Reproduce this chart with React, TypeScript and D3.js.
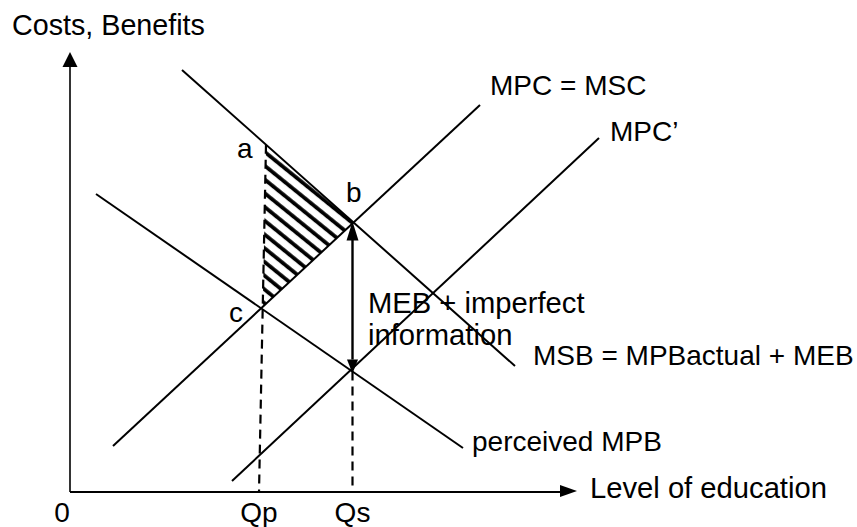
import React from "react";
import * as d3 from "d3";

// Curves as straight lines, in data units (quantity, cost/benefit)
const curveNames = ["MSB = MPBactual + MEB", "perceived MPB", "MPC = MSC", "MPC’"];
const curveX0 = [2.24, 0.52, 0.86, 3.24];
const curveY0 = [10.55, 7.45, 1.15, 0.275];
const curveX1 = [8.9, 7.86, 8.2, 10.58];
const curveY1 = [3.15, 1.1, 9.675, 8.85];
// label anchor (data units)
const curveLabelX = [9.26, 8.04, 8.4, 10.8];
const curveLabelY = [3.18, 1.03, 9.93, 8.78];

// Quantities on the horizontal axis
const qLabels = ["0", "Qp", "Qs"];
const qValues = [0, 3.78, 5.65];
const qpTopX = 3.92; // top of the Qp dashed line (at point a)

const pointLabels = ["a", "b", "c"];
const pointLabelX = [3.34, 5.52, 3.18];
const pointLabelY = [8.36, 7.25, 4.25];

const axisYLabel = "Costs, Benefits";
const axisXLabel = "Level of education";
const mebLines = ["MEB + imperfect", "information"];

const W = 857;
const H = 527;
const FONT = "'Liberation Sans', Arial, Helvetica, sans-serif";
const FS = 28;
const FS_BIG = 29.2;

export default function App() {
  const x = d3.scaleLinear().domain([0, 10]).range([70, 570]);
  const y = d3.scaleLinear().domain([0, 10]).range([492, 92]);

  const slope = (i: number) => (curveY1[i] - curveY0[i]) / (curveX1[i] - curveX0[i]);
  const at = (i: number, xv: number) => curveY0[i] + slope(i) * (xv - curveX0[i]);
  const intersect = (i: number, j: number) => {
    const xv = (curveY0[j] - slope(j) * curveX0[j] - (curveY0[i] - slope(i) * curveX0[i])) / (slope(i) - slope(j));
    return [xv, at(i, xv)];
  };

  const line = d3.line<[number, number]>().x((d) => x(d[0])).y((d) => y(d[1]));

  const qp = qValues[1];
  const qs = qValues[2];
  const aY = at(0, qpTopX);
  const qpLineX = (yv: number) => qp + (qpTopX - qp) * (yv / aY);
  let cY = at(2, qp);
  for (let k = 0; k < 5; k++) cY = at(2, qpLineX(cY));
  const cX = qpLineX(cY);
  const [bX, bY] = intersect(0, 2);
  const triangle: [number, number][] = [
    [qpTopX, aY],
    [bX, bY],
    [cX, cY],
  ];

  const topArrowY = at(0, qs);
  const lowArrowY = at(1, qs);
  const xq = x(qs);
  const yTop = y(topArrowY);
  const yLow = y(lowArrowY);

  const ox = x(0);
  const oy = y(0);
  const xTip = x(10.14);
  const yTip = y(11.0);

  return (
    <svg
      width={W}
      height={H}
      style={{ position: "absolute", left: 0, top: 0, background: "#fff" }}
      fontFamily={FONT}
    >
      <defs>
        <pattern
          id="hatch"
          patternUnits="userSpaceOnUse"
          width={10.7}
          height={10.7}
          patternTransform="rotate(39)"
        >
          <line x1={0} y1={5} x2={10.7} y2={5} stroke="#000" strokeWidth={3.8} />
        </pattern>
      </defs>
      <rect width={W} height={H} fill="#fff" />

      {/* hatched welfare loss triangle */}
      <path d={line(triangle) + "Z"} fill="url(#hatch)" stroke="none" />

      {/* axes */}
      <line x1={ox} y1={oy} x2={ox} y2={yTip + 14} stroke="#000" strokeWidth={1.6} />
      <path d={`M${ox},${yTip} L${ox - 7.5},${yTip + 15} L${ox + 7.5},${yTip + 15} Z`} fill="#000" />
      <line x1={ox} y1={oy} x2={xTip - 15} y2={oy} stroke="#000" strokeWidth={1.8} />
      <path d={`M${xTip},${oy - 1} L${xTip - 17},${oy - 7} L${xTip - 17},${oy + 5} Z`} fill="#000" />

      {/* dashed quantity lines */}
      <line
        x1={x(qpTopX)}
        y1={y(aY)}
        x2={x(qp)}
        y2={oy}
        stroke="#000"
        strokeWidth={2.2}
        strokeDasharray="9,6"
      />
      <line
        x1={xq}
        y1={yLow}
        x2={xq}
        y2={oy}
        stroke="#000"
        strokeWidth={2.2}
        strokeDasharray="9,6"
      />

      {/* curves */}
      {curveNames.map((n, i) => (
        <path
          key={n}
          d={line([
            [curveX0[i], curveY0[i]],
            [curveX1[i], curveY1[i]],
          ]) as string}
          stroke="#000"
          strokeWidth={2}
          fill="none"
        />
      ))}

      {/* double arrow MEB */}
      <line x1={xq} y1={yTop + 16} x2={xq} y2={yLow - 12} stroke="#000" strokeWidth={2.4} />
      <path d={`M${xq},${yTop} L${xq - 6},${yTop + 19} L${xq + 6},${yTop + 19} Z`} fill="#000" />
      <path d={`M${xq},${yLow + 2} L${xq - 5.5},${yLow - 12} L${xq + 5.5},${yLow - 12} Z`} fill="#000" />

      {/* curve labels */}
      {curveNames.map((n, i) => (
        <text key={n} x={x(curveLabelX[i])} y={y(curveLabelY[i])} fontSize={FS} fill="#000">
          {n}
        </text>
      ))}

      {/* point labels */}
      {pointLabels.map((p, i) => (
        <text key={p} x={x(pointLabelX[i])} y={y(pointLabelY[i])} fontSize={FS} fill="#000">
          {p}
        </text>
      ))}

      {/* MEB label */}
      {mebLines.map((t, i) => (
        <text key={t} x={368} y={313 + i * 32} fontSize={FS_BIG} fill="#000">
          {t}
        </text>
      ))}

      {/* quantity labels */}
      {qLabels.map((q, i) => (
        <text key={q} x={x(qValues[i]) + (i === 0 ? -8 : 0)} y={522} fontSize={FS} fill="#000" textAnchor="middle">
          {q}
        </text>
      ))}

      {/* axis titles */}
      <text x={12} y={35} fontSize={FS_BIG - 0.5} fill="#000">
        {axisYLabel}
      </text>
      <text x={590} y={498} fontSize={FS_BIG} fill="#000">
        {axisXLabel}
      </text>
    </svg>
  );
}
